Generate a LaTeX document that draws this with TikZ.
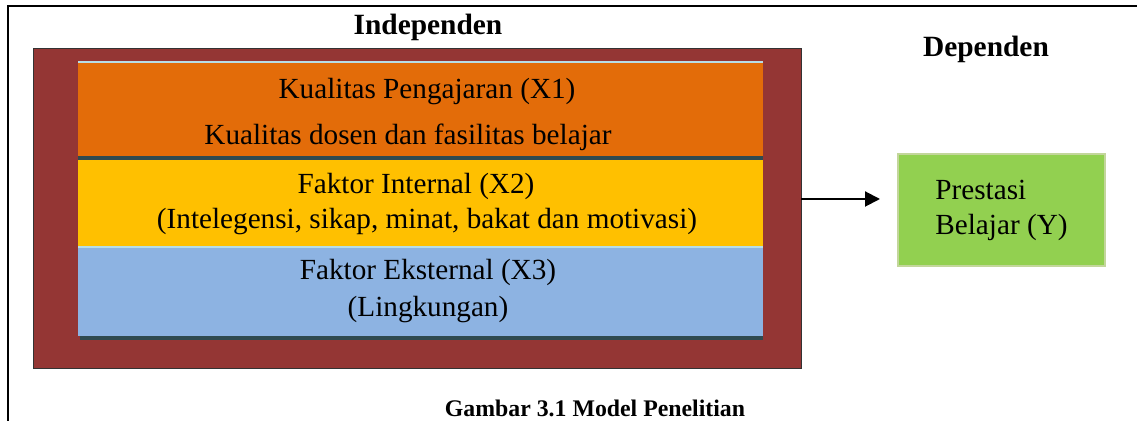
\documentclass[tikz,border=0pt]{standalone}
\usepackage{fontspec}
\setmainfont{Liberation Serif}
\usepackage{xcolor}
\usetikzlibrary{arrows.meta}
\definecolor{indred}{HTML}{943634}
\definecolor{xorange}{HTML}{E36C09}
\definecolor{xyellow}{HTML}{FFC000}
\definecolor{xblue}{HTML}{8DB3E2}
\definecolor{ygreen}{HTML}{92D050}
\definecolor{yshadow}{HTML}{C3D69B}
\definecolor{darkline}{HTML}{2F4A50}
\definecolor{lightline}{HTML}{B7DEE8}
\tikzset{
	txt/.style={font=\fontsize{14.6}{17.5}\selectfont, inner sep=0pt},
	heading/.style={font=\fontsize{14.7}{17.5}\selectfont\bfseries, inner sep=0pt},
	box/.style={anchor=north west, inner sep=0pt}
}

\begin{document}
\begin{tikzpicture}[x=0.5pt, y=-0.5pt]
		\useasboundingbox (0,0) rectangle (1137,421);
		\draw [black, line width=1pt]	(1137,6) -- (8,6) -- (8,421);
		\node [box, fill=indred, draw=black!80, line width=0.6pt,
			minimum width=384pt, minimum height=160pt] (indep) at (33,48) {};
		\fill [xorange]		(78,62) rectangle (763,156);
		\draw [lightline, line width=1pt]	(78,62.5) -- (763,62.5);
		\fill [darkline]	(78,156) rectangle (763,160);
		\fill [xyellow]		(78,160) rectangle (763,247);
		\fill [lightline]	(78,246) rectangle (763,248);
		\fill [xblue]		(78,248) rectangle (763,336);
		\fill [darkline]	(80,336) rectangle (763,340);
		\node [heading] (judulx) at (428,27) {Independen};
		\node [heading] (juduly) at (986,49) {Dependen};
		\node [txt] (x1a) at (427,92) {Kualitas Pengajaran (X1)};
		\node [txt] (x1b) at (408,137) {Kualitas dosen dan fasilitas belajar};
		\node [txt] (x2a) at (416,186) {Faktor Internal (X2)};
		\node [txt] (x2b) at (427,222) {(Intelegensi, sikap, minat, bakat dan motivasi)};
		\node [txt] (x3a) at (428,272) {Faktor Eksternal (X3)};
		\node [txt] (x3b) at (428,310) {(Lingkungan)};
		\node [box, fill=ygreen, draw=yshadow, line width=1pt, txt, align=left,
			minimum width=103.5pt, minimum height=56pt] (prestasi) at (897,153)
			{Prestasi\\Belajar (Y)};
		\coordinate (src) at (801,199);
		\draw [-{Triangle[length=7.5pt,width=7.5pt]}, black, line width=1pt, shorten >=8.5pt]
			(src) -- (src -| prestasi.west);
		\node [font=\fontsize{11.9}{14}\selectfont\bfseries, inner sep=0pt] (caption) at (595,408)
			{Gambar 3.1 Model Penelitian};
	\end{tikzpicture}
\end{document}
